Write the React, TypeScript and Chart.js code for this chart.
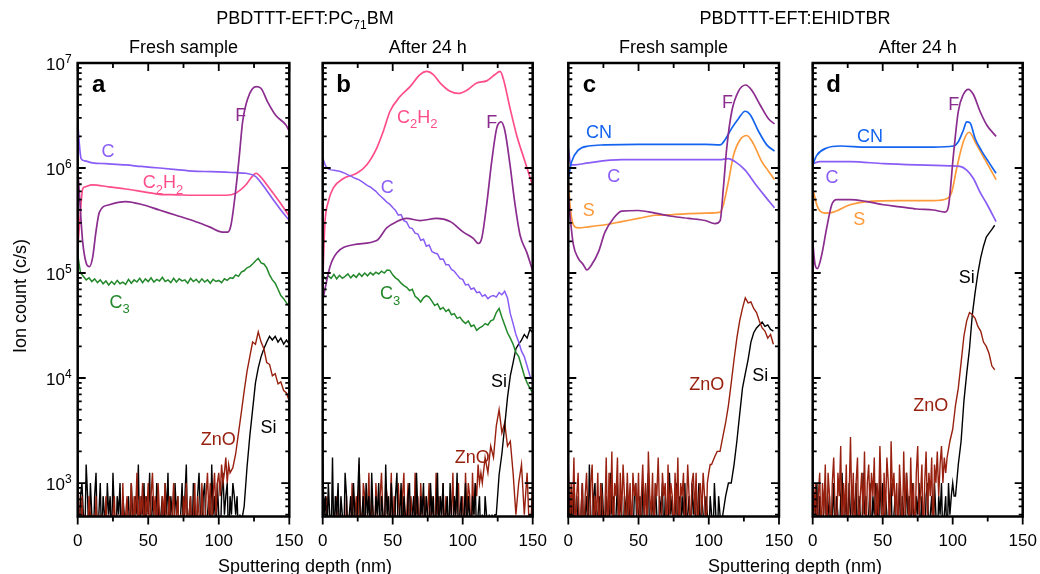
import React, { useEffect, useRef } from 'react';
import { Chart, registerables } from 'chart.js';

Chart.register(...registerables);

const FONT = '"Liberation Sans", Arial, Helvetica, sans-serif';
const W = 1040;
const H = 574;
const PLOT_TOP = 63;
const PLOT_BOTTOM = 516.5;
const Y_MIN = 480;
const Y_MAX = 1e7;
const X_TICKS = [0, 25, 50, 75, 100, 125, 150];
const X_TICK_LABELS = [0, 50, 100, 150];
const Y_DECADES = [3, 4, 5, 6, 7];

const COL = {
  C: '#8a5cf6',
  C2H2: '#ff4d8c',
  F: '#8b2c8f',
  C3: '#22882a',
  ZnO: '#98200f',
  Si: '#000000',
  CN: '#1464f0',
  S: '#ff9a3a',
};

// depth grids (nm)
const DEPTH_1NM = [0, 1, 2, 3, 4, 5, 6, 7, 8, 9, 10, 11, 12, 13, 14, 15, 16, 17, 18, 19, 20, 21, 22, 23, 24, 25, 26, 27, 28, 29, 30, 31, 32, 33, 34, 35, 36, 37, 38, 39, 40, 41, 42, 43, 44, 45, 46, 47, 48, 49, 50, 51, 52, 53, 54, 55, 56, 57, 58, 59, 60, 61, 62, 63, 64, 65, 66, 67, 68, 69, 70, 71, 72, 73, 74, 75, 76, 77, 78, 79, 80, 81, 82, 83, 84, 85, 86, 87, 88, 89, 90, 91, 92, 93, 94, 95, 96, 97, 98, 99, 100, 101, 102, 103, 104, 105, 106, 107, 108, 109, 110, 111, 112, 113, 114, 115, 116, 117, 118, 119, 120, 121, 122, 123, 124, 125, 126, 127, 128, 129, 130, 131, 132, 133, 134, 135, 136, 137, 138, 139, 140, 141, 142, 143, 144, 145, 146, 147, 148, 149, 150];
const DEPTH_2NM = [0, 2, 4, 6, 8, 10, 12, 14, 16, 18, 20, 22, 24, 26, 28, 30, 32, 34, 36, 38, 40, 42, 44, 46, 48, 50, 52, 54, 56, 58, 60, 62, 64, 66, 68, 70, 72, 74, 76, 78, 80, 82, 84, 86, 88, 90, 92, 94, 96, 98, 100, 102, 104, 106, 108, 110, 112, 114, 116, 118, 120, 122, 124, 126, 128, 130, 132, 134, 136, 138, 140, 142, 144, 146, 148, 150];

// ---------- Panel a : PC71BM fresh ----------
const A_C_DEPTH = [0, 1, 2.4, 5, 10.6, 20, 34, 45, 58, 70, 81.5, 95, 105, 112, 119, 126, 131, 138, 144, 150];
const A_C = [2.75e6, 1.78e6, 1.23e6, 1.17e6, 1.12e6, 1.1e6, 1.07e6, 1.035e6, 1.0e6, 9.66e5, 9.33e5, 9.23e5, 9.12e5, 9.02e5, 8.91e5, 8.32e5, 6.92e5, 5.13e5, 3.98e5, 3.16e5];
const A_C2H2_DEPTH = [0, 1.5, 3.5, 5, 10.6, 22, 34, 46, 58, 70, 81.5, 95, 105, 112, 119.3, 123, 126.4, 128.7, 135.8, 142.9, 150];
const A_C2H2 = [1.7e5, 3.16e5, 6.31e5, 6.61e5, 6.92e5, 6.61e5, 6.31e5, 5.96e5, 5.62e5, 5.56e5, 5.5e5, 5.5e5, 5.5e5, 5.75e5, 6.92e5, 8.1e5, 8.91e5, 8.51e5, 6.46e5, 4.79e5, 3.47e5];
const A_F_DEPTH = [0, 1.2, 3.5, 5.9, 8.3, 10.6, 13, 15.4, 22.4, 34.2, 46.1, 57.9, 69.7, 81.5, 93.3, 102.7, 106.3, 108.7, 112.2, 114.6, 116.9, 120.5, 126.4, 129.9, 134.6, 140.5, 147.6, 150];
const A_F = [1.0e6, 5.62e5, 2.0e5, 1.26e5, 1.15e5, 1.41e5, 2.51e5, 3.8e5, 4.47e5, 4.79e5, 4.47e5, 3.98e5, 3.55e5, 3.16e5, 2.75e5, 2.45e5, 2.45e5, 2.88e5, 6.46e5, 1.32e6, 2.75e6, 4.57e6, 5.96e6, 5.75e6, 4.27e6, 3.16e6, 2.57e6, 2.24e6];
const A_C3 = [1.5e5, 1.0e5, 9.3e4, 8.6e4, 9.0e4, 8.3e4, 8.8e4, 8.1e4, 8.6e4, 7.9e4,
  8.4e4, 7.7e4, 8.3e4, 7.8e4, 8.5e4, 7.9e4, 8.2e4, 7.8e4, 8.7e4, 8.0e4,
  8.6e4, 8.2e4, 8.9e4, 8.1e4, 8.8e4, 8.3e4, 9.0e4, 8.2e4, 8.7e4, 8.4e4,
  9.1e4, 8.3e4, 8.6e4, 8.1e4, 8.9e4, 8.2e4, 8.8e4, 8.4e4, 8.6e4, 8.0e4,
  8.9e4, 8.3e4, 8.7e4, 8.1e4, 8.8e4, 8.2e4, 8.6e4, 8.0e4, 8.7e4, 8.3e4,
  8.5e4, 8.1e4, 8.8e4, 8.5e4, 9.0e4, 8.9e4, 9.6e4, 9.3e4, 1.02e5, 1.05e5,
  1.12e5, 1.15e5, 1.22e5, 1.3e5, 1.38e5, 1.25e5, 1.22e5, 1.12e5, 9.6e4, 8.6e4,
  8.0e4, 7.0e4, 6.1e4, 5.7e4, 5.2e4, 4.8e4];
// ZnO / Si: background noise read at 1 nm, rising part at 2 nm
const A_ZNO_BASE = [1250, 500, 250, 750, 250, 500, 250, 250, 750, 500,
  250, 500, 250, 750, 250, 500, 250, 500, 250, 250,
  750, 250, 500, 250, 250, 500, 750, 250, 500, 250,
  500, 250, 1000, 250, 500, 750, 250, 500, 1000, 250,
  750, 500, 1250, 250, 750, 500, 1000, 250, 750, 500,
  1000, 250, 750, 1250, 500, 750, 250, 1000, 500, 250,
  750, 500, 1000, 250, 500, 750, 250, 500, 1000, 250,
  500, 750, 250, 500, 250, 750, 500, 1000, 250, 500,
  750, 250, 500, 1000, 250, 750, 500, 250, 1000, 500,
  250, 750, 1250, 500, 1000, 250, 750, 1250, 500, 1000,
  1250, 750, 1500, 1000, 1250, 1750, 1000, 1500];
const A_ZNO_RISE = [1250, 1400, 1900, 3000, 4700, 7500, 1.15e4, 1.6e4, 2.2e4, 2.1e4, 2.75e4, 2.2e4, 1.9e4, 1.4e4, 1.35e4, 1.05e4, 1.1e4, 8800, 9200, 7600, 7200, 6000];
const A_SI_BASE = [1750, 250, 750, 1000, 500, 250, 1500, 750, 250, 1000,
  500, 250, 750, 1250, 250, 500, 1000, 250, 750, 500,
  250, 1000, 500, 750, 250, 1250, 500, 250, 750, 500,
  1000, 250, 750, 500, 250, 500, 750, 250, 1000, 500,
  250, 750, 500, 1500, 250, 750, 500, 1000, 250, 750,
  500, 1250, 250, 750, 500, 250, 1000, 750, 250, 500,
  750, 250, 1000, 500, 1250, 250, 750, 500, 250, 1000,
  500, 750, 250, 500, 1000, 250, 750, 1500, 250, 500,
  750, 250, 1000, 500, 250, 750, 1250, 500, 250, 750,
  1000, 250, 500, 750, 250, 1500, 500, 750, 250, 1000,
  500, 250, 750, 1250, 500, 750, 1000, 250, 750, 500,
  1000, 750, 500, 750, 250, 500, 250, 500];
const A_SI_RISE = [600, 1400, 2800, 5000, 9000, 1.25e4, 1.6e4, 1.9e4, 2.2e4, 2.5e4, 2.3e4, 2.5e4, 2.2e4, 2.4e4, 2.1e4, 2.3e4, 2.1e4];

// ---------- Panel b : PC71BM after 24 h ----------
const B_C2H2_DEPTH = [0, 1, 1.7, 4, 7.6, 14.8, 24.3, 31.4, 38.6, 43.3, 48.1, 55.2, 62.4, 69.5, 74.3, 79, 83.8, 91, 96.9, 102.9, 110, 117.1, 123.1, 126.7, 129, 133.8, 138.6, 144.5, 150];
const B_C2H2 = [7.9e4, 2.0e5, 3.16e5, 4.79e5, 6.46e5, 7.94e5, 8.91e5, 1.07e6, 1.55e6, 2.24e6, 3.47e6, 4.79e6, 5.96e6, 7.76e6, 8.32e6, 7.76e6, 6.46e6, 5.37e6, 5.13e6, 5.5e6, 6.46e6, 6.76e6, 7.76e6, 8.32e6, 7.08e6, 3.72e6, 2.04e6, 1.15e6, 6.76e5];
const B_F_DEPTH = [0, 5.2, 10, 21.9, 38.6, 45.7, 52.9, 60, 69.5, 81.4, 91, 100.5, 107.6, 111.2, 113.6, 117.1, 120.7, 124.3, 127.4, 130.2, 133.8, 137.4, 141, 145.7, 150];
const B_F = [5.5e4, 1.15e5, 1.55e5, 1.86e5, 2.04e5, 2.69e5, 3.09e5, 3.31e5, 3.16e5, 3.31e5, 3.09e5, 2.45e5, 2.14e5, 1.91e5, 2.14e5, 4.47e5, 1.15e6, 2.4e6, 2.75e6, 2.24e6, 1.07e6, 4.47e5, 2.29e5, 1.58e5, 1.05e5];
const B_C = [1.25e6, 1.05e6, 9.8e5, 9.6e5, 9.5e5, 9.4e5, 9.3e5, 9.1e5, 8.9e5, 8.6e5,
  8.4e5, 8.1e5, 7.9e5, 7.7e5, 7.4e5, 7.1e5, 6.8e5, 6.6e5, 6.3e5, 6.0e5,
  5.6e5, 5.3e5, 5.0e5, 4.7e5, 4.5e5, 4.2e5, 3.95e5, 3.55e5, 3.6e5, 3.15e5,
  3.05e5, 2.7e5, 2.65e5, 2.4e5, 2.35e5, 2.05e5, 2.1e5, 1.8e5, 1.85e5, 1.6e5,
  1.55e5, 1.52e5, 1.35e5, 1.36e5, 1.2e5, 1.2e5, 1.08e5, 1.04e5, 9.6e4, 8.9e4,
  8.7e4, 7.7e4, 7.8e4, 7.0e4, 7.2e4, 6.5e4, 6.6e4, 6.0e4, 6.2e4, 5.7e4,
  6.0e4, 6.1e4, 5.9e4, 6.5e4, 6.2e4, 6.7e4, 5.8e4, 4.1e4, 3.3e4, 2.6e4,
  2.2e4, 1.8e4, 1.6e4, 1.3e4, 1.05e4, 9.5e3];
const B_C3 = [9.6e4, 8.8e4, 9.4e4, 8.9e4, 9.7e4, 8.8e4, 9.5e4, 8.9e4, 9.3e4, 9.8e4,
  9.0e4, 9.6e4, 9.1e4, 9.9e4, 9.3e4, 1.0e5, 9.4e4, 1.01e5, 9.6e4, 1.02e5,
  9.8e4, 1.04e5, 1.0e5, 1.07e5, 1.06e5, 9.6e4, 9.0e4, 8.6e4, 8.0e4, 7.6e4,
  7.3e4, 6.8e4, 7.0e4, 6.0e4, 5.7e4, 5.3e4, 5.8e4, 6.1e4, 5.9e4, 5.4e4,
  4.9e4, 5.1e4, 4.5e4, 4.7e4, 4.3e4, 4.5e4, 4.0e4, 4.1e4, 3.7e4, 3.8e4,
  3.5e4, 3.3e4, 3.5e4, 3.1e4, 3.2e4, 2.85e4, 3.0e4, 3.1e4, 3.3e4, 3.2e4,
  3.5e4, 3.6e4, 4.2e4, 4.6e4, 3.8e4, 3.2e4, 2.7e4, 2.4e4, 2.1e4, 1.75e4,
  1.6e4, 1.3e4, 1.05e4, 9.0e3, 8.0e3, 7.2e3];
const B_ZNO_BASE = [500, 250, 250, 750, 250, 250, 500, 250, 250, 250,
  750, 250, 250, 500, 250, 250, 250, 750, 250, 500,
  250, 1000, 250, 500, 750, 250, 1500, 500, 250, 1000,
  750, 250, 500, 1250, 250, 750, 500, 250, 1000, 500,
  250, 750, 1250, 500, 250, 1000, 750, 250, 500, 1250,
  250, 750, 500, 250, 1000, 500, 250, 750, 1250, 250,
  500, 1000, 250, 750, 500, 250, 1250, 500, 750, 250,
  1000, 500, 250, 750, 250, 500, 1000, 250, 750, 500,
  250, 1250, 500, 750, 250, 500, 1000, 250, 750, 500,
  250, 750, 500, 1250, 250, 500, 750, 1000, 250, 500,
  750, 250, 1250, 500, 1000, 750, 250, 1250, 500, 1000,
  750, 1500, 1000, 1250];
const B_ZNO_RISE = [1000, 1750, 1250, 2250, 1750, 3500, 5000, 3000, 3750, 2250, 2500, 1250, 500, 1000, 1500, 500, 1250, 250, 1000];
const B_SI_BASE = [1500, 500, 750, 250, 1000, 500, 250, 1750, 250, 750,
  500, 1000, 250, 750, 500, 250, 1250, 750, 250, 500,
  750, 250, 1000, 500, 250, 750, 1750, 250, 500, 750,
  250, 1000, 500, 750, 250, 1250, 500, 250, 750, 500,
  1000, 250, 750, 500, 250, 1500, 500, 750, 250, 1000,
  500, 250, 750, 1250, 250, 500, 1000, 250, 750, 500,
  250, 750, 1000, 250, 500, 750, 250, 1250, 500, 250,
  750, 500, 1000, 250, 750, 500, 250, 1000, 500, 750,
  250, 500, 1250, 250, 750, 500, 1000, 250, 500, 750,
  250, 1000, 500, 250, 750, 500, 1250, 250, 500, 750,
  250, 500, 1000, 250, 750, 500, 250, 750, 500, 1000,
  250, 500, 750, 250, 500, 250, 750, 500, 250, 500,
  250, 500, 250, 500];
const B_SI_RISE = [500, 1200, 1900, 3500, 6500, 1.05e4, 1.4e4, 1.9e4, 2.1e4, 2.3e4, 2.6e4, 2.4e4, 2.9e4, 2.7e4];

// ---------- Panel c : EHIDTBR fresh ----------
const C_CN_DEPTH = [0, 2.4, 7.1, 14.25, 26.1, 49.9, 73.6, 97.4, 108.1, 111.6, 116.4, 121.1, 125.9, 129.4, 135.4, 141.3, 146.8];
const C_CN = [7.94e5, 1.15e6, 1.48e6, 1.62e6, 1.66e6, 1.68e6, 1.68e6, 1.68e6, 1.66e6, 1.86e6, 2.4e6, 2.95e6, 3.47e6, 3.24e6, 2.24e6, 1.66e6, 1.45e6];
const C_C_DEPTH = [0, 1.9, 4.75, 14.25, 38, 61.75, 85.5, 108, 114, 118.75, 125.9, 133, 140.1, 146.8];
const C_C = [1.55e6, 1.07e6, 1.07e6, 1.12e6, 1.2e6, 1.2e6, 1.2e6, 1.2e6, 1.23e6, 1.15e6, 9.55e5, 7.08e5, 5.37e5, 4.17e5];
const C_S_DEPTH = [0, 1.2, 3.6, 7.1, 14.25, 26.1, 38, 49.9, 61.75, 73.6, 85.5, 97.4, 108.1, 110.4, 114, 117.6, 122.3, 127.1, 131.8, 137.75, 142.5, 146.8];
const C_S = [7.41e5, 4.47e5, 2.88e5, 2.69e5, 2.75e5, 2.88e5, 3.09e5, 3.31e5, 3.55e5, 3.59e5, 3.67e5, 3.72e5, 3.8e5, 4.47e5, 7.41e5, 1.32e6, 1.86e6, 2.04e6, 1.7e6, 1.15e6, 9.33e5, 7.76e5];
const C_F_DEPTH = [0, 1.2, 3.6, 7.1, 10.7, 13.1, 16.6, 21.4, 26.1, 32.1, 38, 49.9, 61.75, 73.6, 85.5, 97.4, 104.5, 108.1, 110.4, 112.8, 116.4, 121.1, 126.35, 130.6, 136.6, 142.5, 146.8];
const C_F = [5.6e5, 3.55e5, 1.86e5, 1.38e5, 1.2e5, 1.07e5, 1.2e5, 1.58e5, 2.45e5, 3.31e5, 3.89e5, 3.94e5, 3.72e5, 3.47e5, 3.31e5, 3.16e5, 2.95e5, 3.16e5, 6.46e5, 1.55e6, 3.47e6, 5.37e6, 6.17e6, 5.5e6, 3.98e6, 2.95e6, 2.63e6];
const C_ZNO_BASE = [1500, 250, 1000, 500, 1750, 250, 750, 1250, 250, 500,
  1000, 250, 750, 1250, 500, 250, 1000, 1500, 250, 750,
  500, 1250, 250, 1000, 750, 250, 500, 1750, 250, 1250,
  500, 2000, 250, 1000, 750, 1750, 250, 1250, 500, 1500,
  750, 250, 1250, 500, 1000, 250, 1250, 750, 1000, 500,
  1250, 250, 750, 1500, 500, 1000, 250, 2000, 750, 500,
  1250, 250, 1000, 750, 1750, 500, 250, 1250, 750, 1000,
  250, 1500, 500, 1000, 750, 250, 1250, 500, 1750, 250,
  1000, 750, 1250, 250, 500, 1500, 750, 250, 1000, 1250,
  500, 1250, 250, 750, 1000, 500, 1250, 750, 250, 1000,
  1250, 1500];
const C_ZNO_RISE = [1500, 1750, 2000, 2000, 2750, 3750, 5500, 9000, 1.5e4, 2.4e4, 3.5e4, 4.6e4, 5.8e4, 5.2e4, 5.3e4, 4.6e4, 4.2e4, 3.5e4, 3.0e4, 2.8e4, 2.4e4, 2.6e4, 2.1e4];
const C_SI_BASE = [1250, 500, 750, 250, 1000, 500, 250, 750, 250, 500,
  1000, 250, 500, 750, 250, 1500, 500, 250, 750, 1000,
  250, 500, 750, 250, 1000, 500, 250, 750, 500, 250,
  1250, 500, 750, 250, 500, 1000, 250, 750, 500, 250,
  750, 500, 1000, 250, 750, 500, 250, 750, 1000, 250,
  500, 750, 250, 1000, 500, 250, 750, 1250, 250, 500,
  750, 250, 1000, 500, 250, 750, 500, 1000, 250, 750,
  500, 250, 1250, 500, 750, 250, 500, 1000, 250, 750,
  250, 750, 500, 1000, 250, 500, 750, 250, 1000, 500,
  750, 250, 500, 1000, 250, 750, 500, 250, 750, 500,
  250, 750, 500, 250, 1000, 500, 250, 750, 500, 250];
const C_SI_RISE = [500, 750, 1000, 1000, 1500, 2500, 4500, 8000, 1.1e4, 1.5e4, 2.2e4, 2.7e4, 3.0e4, 3.2e4, 3.4e4, 3.1e4, 3.2e4, 2.9e4, 2.8e4];

// ---------- Panel d : EHIDTBR after 24 h ----------
const D_CN_DEPTH = [0, 2.9, 10, 19.5, 38.6, 62.4, 86.2, 100.5, 104, 107.6, 110, 112.4, 116, 120.7, 125.5, 131];
const D_CN = [1.07e6, 1.32e6, 1.55e6, 1.62e6, 1.58e6, 1.58e6, 1.58e6, 1.62e6, 1.78e6, 2.29e6, 2.75e6, 2.69e6, 1.91e6, 1.45e6, 1.15e6, 8.91e5];
const D_C_DEPTH = [0, 5.2, 26.7, 50.5, 74.3, 98, 105.2, 110, 114.8, 119.5, 124.3, 131];
const D_C = [1.1e6, 1.15e6, 1.15e6, 1.1e6, 1.07e6, 1.05e6, 1.035e6, 9.55e5, 7.94e5, 5.89e5, 4.57e5, 3.09e5];
const D_S_DEPTH = [0, 2.9, 5.2, 8.8, 14.8, 26.7, 38.6, 62.4, 86.2, 96, 99.3, 102.9, 107.6, 111.7, 117.1, 123.1, 131];
const D_S = [6.46e5, 4.47e5, 3.89e5, 3.72e5, 3.8e5, 4.47e5, 4.79e5, 4.9e5, 4.9e5, 5.13e5, 5.89e5, 1.0e6, 1.78e6, 2.19e6, 1.66e6, 1.2e6, 7.76e5];
const D_F_DEPTH = [0, 1.7, 3.3, 6.4, 10, 13.6, 17.1, 26.7, 38.6, 50.5, 62.4, 74.3, 86.2, 94.5, 96.9, 100.5, 104, 107.6, 111.2, 114.8, 119.5, 124.3, 131];
const D_F = [2.0e5, 1.2e5, 1.1e5, 1.48e5, 2.69e5, 4.47e5, 5.01e5, 5.01e5, 4.79e5, 4.47e5, 4.27e5, 4.07e5, 3.98e5, 3.8e5, 4.27e5, 1.32e6, 3.47e6, 5.01e6, 5.62e6, 5.01e6, 3.47e6, 2.57e6, 2.0e6];
const D_ZNO_BASE = [1250, 500, 1000, 250, 750, 1250, 250, 1000, 500, 1500,
  250, 1250, 750, 250, 1000, 1750, 500, 250, 1250, 750,
  2250, 250, 1000, 500, 1500, 250, 750, 2750, 500, 1250,
  250, 1000, 1750, 250, 750, 1250, 500, 2000, 250, 1000,
  1500, 500, 1250, 750, 1750, 250, 1000, 500, 2250, 750,
  250, 1250, 500, 1750, 1000, 250, 2500, 750, 1250, 500,
  1000, 250, 1500, 750, 250, 2000, 500, 1250, 750, 250,
  1750, 500, 1000, 250, 1250, 2250, 500, 750, 1500, 250,
  1000, 2000, 500, 1250, 750, 1750, 250, 1500, 1000, 2000,
  750, 1500, 2250, 1000, 1750, 1250];
const D_ZNO_RISE = [1750, 2500, 3250, 5500, 8000, 1.4e4, 2.5e4, 3.5e4, 4.2e4, 4.0e4, 3.7e4, 3.1e4, 2.8e4, 2.2e4, 2.0e4, 1.7e4, 1.3e4, 1.2e4];
const D_SI_BASE = [1000, 750, 500, 1000, 250, 750, 500, 250, 750, 1000,
  250, 500, 750, 250, 500, 1000, 250, 750, 500, 250,
  750, 1250, 250, 500, 750, 250, 1000, 500, 250, 750,
  500, 1000, 250, 750, 500, 250, 1250, 500, 750, 250,
  500, 1000, 250, 750, 500, 1000, 750, 250, 1250, 500,
  1000, 250, 750, 500, 250, 750, 1000, 250, 500, 750,
  250, 500, 1000, 250, 750, 500, 250, 1250, 500, 750,
  250, 1000, 500, 250, 750, 500, 1000, 250, 750, 500,
  250, 750, 1000, 250, 500, 750, 250, 1000, 500, 250,
  750, 500, 1000, 250, 500, 750, 250, 1000, 500, 750,
  1000, 750];
const D_SI_RISE = [750, 1500, 2500, 6000, 1.1e4, 1.9e4, 4.0e4, 6.5e4, 1.0e5, 1.4e5, 1.8e5, 2.2e5, 2.4e5, 2.6e5, 2.85e5];

type Part = [string, number]; // 0 normal, 1 subscript, 2 superscript
type Note = { parts: Part[]; x: number; y: number; color: string };
type Series = { xs: number[]; ys: number[]; color: string; smooth: boolean; width: number };
type Panel = { left: number; right: number; letter: string; yLabels: boolean; series: Series[]; notes: Note[] };

const smooth = (xs: number[], ys: number[], color: string): Series => ({ xs, ys, color, smooth: true, width: 1.7 });
const noisy = (ys: number[], color: string, width = 1.5): Series => ({ xs: DEPTH_2NM.slice(0, ys.length), ys, color, smooth: false, width });
// background (1 nm) followed by the rising part (2 nm)
const twoPart = (base: number[], rise: number[], color: string): Series => {
  const riseDepth = DEPTH_2NM.filter((d) => d >= base.length).slice(0, rise.length);
  return { xs: DEPTH_1NM.slice(0, base.length).concat(riseDepth), ys: base.concat(rise), color, smooth: false, width: 1.4 };
};

const PANELS: Panel[] = [
  {
    left: 77.7, right: 289.3, letter: 'a', yLabels: true,
    series: [
      smooth(A_F_DEPTH, A_F, COL.F),
      smooth(A_C_DEPTH, A_C, COL.C),
      smooth(A_C2H2_DEPTH, A_C2H2, COL.C2H2),
      noisy(A_C3, COL.C3),
      twoPart(A_ZNO_BASE, A_ZNO_RISE, COL.ZnO),
      twoPart(A_SI_BASE, A_SI_RISE, COL.Si),
    ],
    notes: [
      { parts: [['C', 0]], x: 21.5, y: 1.48e6, color: COL.C },
      { parts: [['C', 0], ['2', 1], ['H', 0], ['2', 1]], x: 60.4, y: 7.4e5, color: COL.C2H2 },
      { parts: [['F', 0]], x: 115.6, y: 3.2e6, color: COL.F },
      { parts: [['C', 0], ['3', 1]], x: 29.8, y: 5.4e4, color: COL.C3 },
      { parts: [['ZnO', 0]], x: 99.7, y: 2630, color: COL.ZnO },
      { parts: [['Si', 0]], x: 135.3, y: 3470, color: COL.Si },
    ],
  },
  {
    left: 322.7, right: 532.7, letter: 'b', yLabels: false,
    series: [
      smooth(B_F_DEPTH, B_F, COL.F),
      noisy(B_C, COL.C),
      smooth(B_C2H2_DEPTH, B_C2H2, COL.C2H2),
      noisy(B_C3, COL.C3),
      twoPart(B_SI_BASE, B_SI_RISE, COL.Si),
      twoPart(B_ZNO_BASE, B_ZNO_RISE, COL.ZnO),
    ],
    notes: [
      { parts: [['C', 0], ['2', 1], ['H', 0], ['2', 1]], x: 67.6, y: 3.1e6, color: COL.C2H2 },
      { parts: [['F', 0]], x: 120.7, y: 2.75e6, color: COL.F },
      { parts: [['C', 0]], x: 46.1, y: 6.6e5, color: COL.C },
      { parts: [['C', 0], ['3', 1]], x: 48.1, y: 6.5e4, color: COL.C3 },
      { parts: [['Si', 0]], x: 125.9, y: 9550, color: COL.Si },
      { parts: [['ZnO', 0]], x: 106.9, y: 1780, color: COL.ZnO },
    ],
  },
  {
    left: 568.3, right: 779, letter: 'c', yLabels: false,
    series: [
      smooth(C_F_DEPTH, C_F, COL.F),
      smooth(C_CN_DEPTH, C_CN, COL.CN),
      smooth(C_C_DEPTH, C_C, COL.C),
      smooth(C_S_DEPTH, C_S, COL.S),
      twoPart(C_ZNO_BASE, C_ZNO_RISE, COL.ZnO),
      twoPart(C_SI_BASE, C_SI_RISE, COL.Si),
    ],
    notes: [
      { parts: [['CN', 0]], x: 21.9, y: 2.24e6, color: COL.CN },
      { parts: [['C', 0]], x: 32.4, y: 8.5e5, color: COL.C },
      { parts: [['S', 0]], x: 14.5, y: 4.0e5, color: COL.S },
      { parts: [['F', 0]], x: 113.3, y: 4.3e6, color: COL.F },
      { parts: [['ZnO', 0]], x: 98.6, y: 8900, color: COL.ZnO },
      { parts: [['Si', 0]], x: 136.6, y: 1.07e4, color: COL.Si },
    ],
  },
  {
    left: 812.7, right: 1022.7, letter: 'd', yLabels: false,
    series: [
      smooth(D_F_DEPTH, D_F, COL.F),
      smooth(D_CN_DEPTH, D_CN, COL.CN),
      smooth(D_C_DEPTH, D_C, COL.C),
      smooth(D_S_DEPTH, D_S, COL.S),
      twoPart(D_ZNO_BASE, D_ZNO_RISE, COL.ZnO),
      twoPart(D_SI_BASE, D_SI_RISE, COL.Si),
    ],
    notes: [
      { parts: [['CN', 0]], x: 40.9, y: 2.04e6, color: COL.CN },
      { parts: [['C', 0]], x: 13.8, y: 8.3e5, color: COL.C },
      { parts: [['S', 0]], x: 33.3, y: 3.3e5, color: COL.S },
      { parts: [['F', 0]], x: 100.7, y: 4.1e6, color: COL.F },
      { parts: [['Si', 0]], x: 110, y: 9.3e4, color: COL.Si },
      { parts: [['ZnO', 0]], x: 84.3, y: 5600, color: COL.ZnO },
    ],
  },
];

function partFont(kind: number, size: number, weight: string) {
  const s = kind === 0 ? size : Math.round(size * 0.7);
  return `${weight}${s}px ${FONT}`;
}

function drawRich(ctx: CanvasRenderingContext2D, parts: Part[], x: number, cy: number, size: number, color: string, align: 'center' | 'right', weight = '') {
  let w = 0;
  for (const [t, k] of parts) {
    ctx.font = partFont(k, size, weight);
    w += ctx.measureText(t).width;
  }
  let cx = align === 'center' ? x - w / 2 : x - w;
  const base = cy + size * 0.36;
  ctx.fillStyle = color;
  ctx.textAlign = 'left';
  ctx.textBaseline = 'alphabetic';
  for (const [t, k] of parts) {
    ctx.font = partFont(k, size, weight);
    const dy = k === 1 ? size * 0.3 : k === 2 ? -size * 0.42 : 0;
    ctx.fillText(t, cx, base + dy);
    cx += ctx.measureText(t).width;
  }
}

function makeFramePlugin(p: Panel) {
  return {
    id: 'frame_' + p.letter,
    afterDatasetsDraw(chart: any) {
      const { ctx, chartArea: a } = chart;
      const xs = chart.scales.x;
      const ys = chart.scales.y;
      ctx.save();
      for (const n of p.notes) {
        drawRich(ctx, n.parts, xs.getPixelForValue(n.x), ys.getPixelForValue(n.y), 18, n.color, 'center');
      }
      ctx.strokeStyle = '#000';
      ctx.lineWidth = 1.8;
      ctx.beginPath();
      for (const v of X_TICKS) {
        const px = xs.getPixelForValue(v);
        const len = v % 50 === 0 ? 8 : 5;
        ctx.moveTo(px, a.bottom);
        ctx.lineTo(px, a.bottom + len);
        ctx.moveTo(px, a.top);
        ctx.lineTo(px, a.top + len);
      }
      for (let e = 2; e <= 7; e++) {
        for (let m = 1; m <= 9; m++) {
          const v = m * Math.pow(10, e);
          if (v < Y_MIN || v > Y_MAX) continue;
          const py = ys.getPixelForValue(v);
          const len = m === 1 ? 8 : 4;
          ctx.moveTo(a.left, py);
          ctx.lineTo(a.left + len, py);
          ctx.moveTo(a.right, py);
          ctx.lineTo(a.right - len, py);
        }
      }
      ctx.stroke();
      ctx.lineWidth = 2.5;
      ctx.strokeRect(a.left, a.top, a.right - a.left, a.bottom - a.top);
      ctx.fillStyle = '#000';
      ctx.font = `17px ${FONT}`;
      ctx.textAlign = 'center';
      ctx.textBaseline = 'middle';
      for (const v of X_TICK_LABELS) {
        ctx.fillText(String(v), xs.getPixelForValue(v), 541);
      }
      if (p.yLabels) {
        for (const d of Y_DECADES) {
          drawRich(ctx, [['10', 0], [String(d), 2]], a.left - 6, ys.getPixelForValue(Math.pow(10, d)) + 1, 17, '#000', 'right');
        }
      }
      drawRich(ctx, [[p.letter, 0]], a.left + 21, 83, 24, '#000', 'center', 'bold ');
      ctx.restore();
    },
  };
}

function buildConfig(p: Panel): any {
  return {
    type: 'line',
    data: {
      datasets: p.series.map((s) => ({
        data: s.xs.map((x, i) => ({ x, y: s.ys[i] })),
        borderColor: s.color,
        backgroundColor: s.color,
        borderWidth: s.width,
        pointRadius: 0,
        fill: false,
        tension: 0,
        cubicInterpolationMode: s.smooth ? 'monotone' : 'default',
      })),
    },
    options: {
      animation: false,
      responsive: false,
      devicePixelRatio: 1,
      events: [],
      layout: { padding: { left: p.left, right: W - p.right, top: PLOT_TOP, bottom: H - PLOT_BOTTOM } },
      scales: {
        x: { type: 'linear', min: 0, max: 150, display: false },
        y: { type: 'logarithmic', min: Y_MIN, max: Y_MAX, display: false },
      },
      plugins: { legend: { display: false }, tooltip: { enabled: false } },
    },
    plugins: [makeFramePlugin(p)],
  };
}

const textStyle = (x: number, y: number, size: number, extra: any = {}): any => ({
  position: 'absolute',
  left: x,
  top: y,
  transform: 'translate(-50%, -50%)',
  fontSize: size,
  lineHeight: 1,
  whiteSpace: 'nowrap',
  ...extra,
});

export default function App() {
  const canvasRefs = useRef<(HTMLCanvasElement | null)[]>([]);
  useEffect(() => {
    const charts = PANELS.map((p, i) => new Chart(canvasRefs.current[i] as HTMLCanvasElement, buildConfig(p)));
    return () => charts.forEach((c) => c.destroy());
  }, []);
  return (
    <div style={{ position: 'fixed', left: 0, top: 0, width: W, height: H, background: '#fff', overflow: 'hidden', fontFamily: FONT, color: '#000' }}>
      {PANELS.map((p, i) => (
        <canvas
          key={p.letter}
          ref={(el) => { canvasRefs.current[i] = el; }}
          width={W}
          height={H}
          style={{ position: 'absolute', left: 0, top: 0, width: W, height: H }}
        />
      ))}
      <div style={textStyle(305, 18, 18)}>
        PBDTTT-EFT:PC<span style={{ fontSize: 12, position: 'relative', top: 5 }}>71</span>BM
      </div>
      <div style={textStyle(795, 18, 18)}>PBDTTT-EFT:EHIDTBR</div>
      <div style={textStyle(183.5, 47, 18)}>Fresh sample</div>
      <div style={textStyle(427.7, 47, 18)}>After 24 h</div>
      <div style={textStyle(673.6, 47, 18)}>Fresh sample</div>
      <div style={textStyle(917.7, 47, 18)}>After 24 h</div>
      <div style={textStyle(305, 566, 18)}>Sputtering depth (nm)</div>
      <div style={textStyle(795, 566, 18)}>Sputtering depth (nm)</div>
      <div style={textStyle(20, 296, 18, { transform: 'translate(-50%, -50%) rotate(-90deg)' })}>Ion count (c/s)</div>
    </div>
  );
}
